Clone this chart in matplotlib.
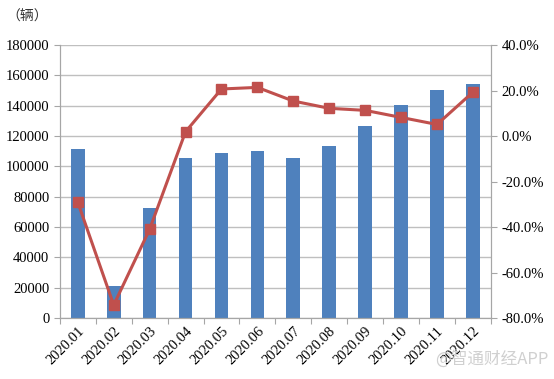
import matplotlib
matplotlib.use("Agg")
import matplotlib.pyplot as plt
import numpy as np
from matplotlib.ticker import FuncFormatter

# Monthly sales (vehicles) and YoY growth (%)
months = ["2020.01", "2020.02", "2020.03", "2020.04", "2020.05", "2020.06",
          "2020.07", "2020.08", "2020.09", "2020.10", "2020.11", "2020.12"]
sales = [111500, 21300, 72800, 105300, 108800, 109900,
         105300, 113400, 126400, 140200, 150500, 154300]
growth = [-29.1, -74.3, -41.0, 1.9, 20.7, 21.4,
          15.4, 12.2, 11.3, 8.2, 5.1, 19.3]

bar_color = "#4F81BD"
line_color = "#C0504D"
axis_gray = "#A6A6A6"

plt.rcParams["font.family"] = ["Liberation Serif", "Noto Sans CJK SC"]

fig = plt.figure(figsize=(5.54, 3.79), dpi=100)
ax = fig.add_axes([0.108, 0.161, 0.778, 0.720])
ax2 = ax.twinx()

x = np.arange(len(months))
ax.bar(x, sales, width=0.38, color=bar_color, zorder=2)
ax.set_xlim(-0.5, len(months) - 0.5)
ax.set_ylim(0, 180000)
ax.set_yticks(np.arange(0, 180001, 20000))
ax.grid(axis="y", color="#BFBFBF", linewidth=1.0, zorder=0)
ax.set_axisbelow(True)

# category boundaries as tick marks, labels in the middle
ax.set_xticks(np.arange(-0.5, len(months), 1.0))
ax.set_xticklabels([])
ax.set_xticks(x, minor=True)
ax.set_xticklabels(months, minor=True, rotation=45, ha="right",
                   rotation_mode="anchor", fontsize=10.5)
ax.tick_params(axis="x", which="minor", length=0, pad=5)
ax.tick_params(axis="x", which="major", length=4, color=axis_gray)
ax.tick_params(axis="y", length=4, color=axis_gray, labelsize=10.5)

ax2.plot(x, growth, color=line_color, marker="s", ms=6.5, lw=2.2, zorder=3)
ax2.set_ylim(-80, 40)
ax2.set_yticks(np.arange(-80, 41, 20))
ax2.yaxis.set_major_formatter(FuncFormatter(lambda v, p: "{:.1f}%".format(v)))
ax2.tick_params(axis="y", length=4, color=axis_gray, labelsize=10.5)

for a in (ax, ax2):
    a.spines["top"].set_visible(False)
    for s in ("left", "right", "bottom"):
        a.spines[s].set_color(axis_gray)

fig.text(0.012, 0.945, "（辆）", fontsize=10, color="#333333",
         family=["Noto Sans CJK SC", "DejaVu Sans"])
fig.text(0.99, 0.04, "@智通财经APP", fontsize=12, color="#D0D0D0",
         ha="right", family=["Noto Sans CJK SC", "DejaVu Sans"])

fig.savefig("out.png", dpi=100)
plt.close(fig)
